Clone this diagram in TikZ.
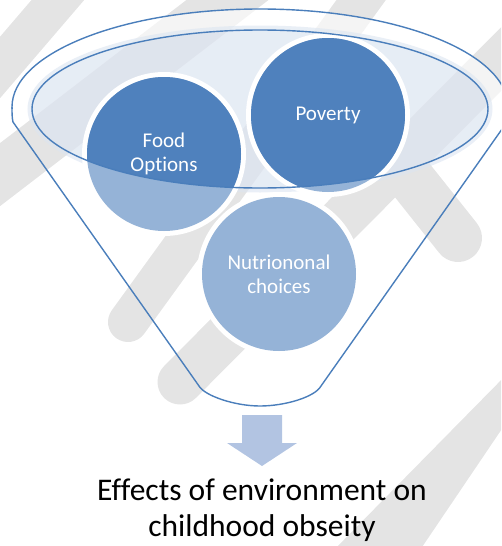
\documentclass[tikz,border=0pt]{standalone}
\usepackage{xcolor}
\usepackage{fontspec}
\setmainfont{Carlito}[Ligatures={CommonOff,ContextualOff}]

\definecolor{funnelline}{RGB}{74,126,187}
\definecolor{balldark}{RGB}{79,129,189}
\definecolor{balllight}{RGB}{149,179,215}
\definecolor{mouthfill}{RGB}{220,229,241}
\definecolor{arrowfill}{RGB}{178,196,226}
\definecolor{stripegray}{RGB}{228,228,228}

\begin{document}
\begin{tikzpicture}[x=1pt, y=-1pt,
	stripe/.style={stripegray, line width=#1, line cap=round},
	stripe/.default=42,
	funnel/.style={funnelline, line width=1.4},
	balltext/.style={text=white, align=center, font=\fontsize{21}{24}\selectfont},
	caption/.style={text=black, align=center, font=\fontsize{31.5}{36.5}\selectfont}
	]
	\useasboundingbox (0,0) rectangle (501,546);
	\clip (0,0) rectangle (501,546);
	
	% watermark stripes behind everything
	\draw[stripe=40] (-15,85) -- (75,-20);
	\draw[stripe=50] (-20,190) -- (260,-25);
	\draw[stripe=40] (372,-15) -- (128,322);
	\draw[stripe=45] (180,382) -- (530,30);
	\draw[stripe=48] (400,165) -- (458,238);
	\fill[stripegray] (512,369) -- (512,414) -- (416,556) -- (328,556) -- cycle;
	
	\coordinate (rim) at (260,107);
	\coordinate (mouth) at (260,109);
	\coordinate (cFood) at (164,154);
	\coordinate (cPoverty) at (328,115);
	\coordinate (cNutri) at (279,274);
	
	% rim of the funnel and its mouth
	\begin{scope}
		\clip (0,0) rectangle (501,108);
		\fill[white, fill opacity=0.6, even odd rule] (rim) ellipse[x radius=248, y radius=98] (mouth) ellipse[x radius=228, y radius=79];
		\draw[funnel] (rim) ellipse[x radius=248, y radius=98];
	\end{scope}
	\draw[mouthfill, line width=5, opacity=0.6] (mouth) ellipse[x radius=230, y radius=81];
	\fill[mouthfill, fill opacity=0.7] (mouth) ellipse[x radius=228, y radius=79];
	
	% the three balls
	\foreach \c in {cFood,cPoverty,cNutri} {
		\fill[white] (\c) circle[radius=82];
		\fill[balllight] (\c) circle[radius=77];
	}
	\begin{scope}
		\clip (mouth) ellipse[x radius=228, y radius=79];
		\foreach \c in {cFood,cPoverty,cNutri}
			\fill[balldark] (\c) circle[radius=77];
	\end{scope}
	
	% outlines
	\draw[funnel] (mouth) ellipse[x radius=228, y radius=79];
	\draw[funnel] (508,107) .. controls (508,113) and (508,118) .. (507,122) -- (321,386)
		.. controls (315,397) and (285,406) .. (260,406)
		.. controls (235,406) and (205,396) .. (199,386) -- (13,122)
		.. controls (12,118) and (12,113) .. (12,107);
	
	% arrow out of the funnel
	\fill[arrowfill] (242,415) -- (282,415) -- (282,443) -- (297,443) -- (262,466) -- (227,443) -- (242,443) -- cycle;
	
	\node[balltext] (food) at (cFood) {Food\\Options};
	\node[balltext] (poverty) at (cPoverty) {Poverty};
	\node[balltext] (nutri) at (cNutri) {Nutriononal\\choices};
	\node[caption] (effects) at (262,510) {Effects of environment on\\childhood obseity};
\end{tikzpicture}
\end{document}
